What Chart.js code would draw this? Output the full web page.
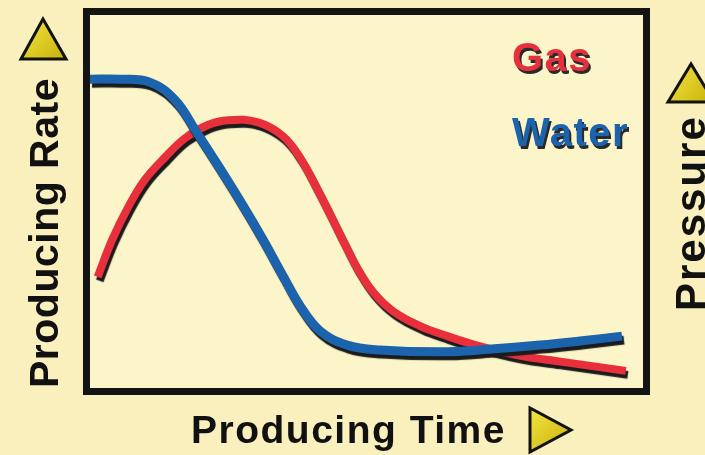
<!DOCTYPE html>
<html>
<head>
<meta charset="utf-8">
<script src="https://cdn.jsdelivr.net/npm/chart.js@4/dist/chart.umd.min.js"></script>
<style>
  html, body { margin: 0; padding: 0; background: #faf0bd; }
  canvas { display: block; }
</style>
</head>
<body>
<canvas id="chart" width="705" height="455"></canvas>
<script>
// values, time and rate both on a 0..100 scale
const gasTime  = [1.4, 4.0, 6.9, 9.9, 13.6, 17.2, 21.3, 25.0, 30.4, 34.9, 38.0, 41.0, 43.4, 45.8, 48.3, 51.2, 54.8, 59.7, 64.6, 69.1, 77.2, 85.4, 96.9];
const gasRate  = [29.8, 39.7, 48.5, 55.8, 61.9, 67.0, 70.5, 71.8, 71.2, 67.5, 61.7, 53.6, 46.6, 39.4, 32.2, 25.7, 20.6, 16.6, 13.9, 11.8, 8.8, 7.0, 4.6];
const waterTime = [0, 5.4, 10.8, 15.4, 19.0, 23.1, 27.5, 31.1, 34.9, 38.0, 41.6, 46.5, 52.4, 64.6, 73.2, 81.4, 88.6, 96.2];
const waterRate = [82.8, 82.8, 82.0, 77.2, 69.2, 59.8, 49.3, 40.2, 30.0, 22.0, 15.3, 11.5, 10.2, 9.7, 10.5, 11.5, 12.6, 13.9];

const seriesNames = ["Gas", "Water"];
const xTitle = "Producing Time";
const yTitle = "Producing Rate";
const y2Title = "Pressure";

const RED = "#e8303d";
const BLUE = "#1c63ad";

const pts = (xs, ys) => xs.map((x, i) => ({ x: x, y: ys[i] }));

function triangle(ctx, p1, p2, p3) {
    const g = ctx.createLinearGradient(Math.min(p1[0], p2[0], p3[0]), Math.min(p1[1], p2[1], p3[1]),
                                       Math.max(p1[0], p2[0], p3[0]), Math.max(p1[1], p2[1], p3[1]));
    g.addColorStop(0, "#f4e640");
    g.addColorStop(1, "#c8b00a");
    ctx.beginPath();
    ctx.moveTo(p1[0], p1[1]);
    ctx.lineTo(p2[0], p2[1]);
    ctx.lineTo(p3[0], p3[1]);
    ctx.closePath();
    ctx.fillStyle = g;
    ctx.fill();
    ctx.lineWidth = 3;
    ctx.lineJoin = "miter";
    ctx.strokeStyle = "#111";
    ctx.stroke();
}

const decor = {
    id: "decor",
    beforeDraw(chart) {
        const { ctx, chartArea: a } = chart;
        ctx.save();
        ctx.fillStyle = "#fcf5c9";
        ctx.fillRect(a.left, a.top, a.right - a.left, a.bottom - a.top);
        ctx.restore();
    },
    beforeDatasetDraw(chart) {
        const ctx = chart.ctx;
        ctx.save();
        ctx.shadowColor = "#1b1b1b";
        ctx.shadowOffsetX = 2;
        ctx.shadowOffsetY = 4;
        ctx.shadowBlur = 1;
    },
    afterDatasetDraw(chart) {
        chart.ctx.restore();
    },
    afterDatasetsDraw(chart) {
        const { ctx, chartArea: a } = chart;
        ctx.save();
        // frame
        ctx.lineWidth = 7;
        ctx.strokeStyle = "#141414";
        ctx.strokeRect(a.left - 3.5, a.top - 3.5, a.right - a.left + 7, a.bottom - a.top + 7);

        // series labels
        ctx.font = "bold 40px 'Liberation Sans', Arial, sans-serif";
        ctx.letterSpacing = "1.5px";
        ctx.textAlign = "left";
        ctx.textBaseline = "alphabetic";
        const labelY = [71, 146];
        chart.data.datasets.forEach((ds, i) => {
            ctx.fillStyle = "#2a2a2a";
            ctx.fillText(ds.label, 514, labelY[i] + 3);
            ctx.fillStyle = ds.borderColor;
            ctx.fillText(ds.label, 512, labelY[i]);
        });

        // axis titles
        ctx.fillStyle = "#111";
        ctx.font = "bold 39px 'Liberation Sans', Arial, sans-serif";
        ctx.letterSpacing = "1.5px";
        ctx.fillText(xTitle, 191, 443);
        triangle(ctx, [530, 408], [530, 452], [571, 430]);

        ctx.save();
        ctx.translate(58, 388);
        ctx.rotate(-Math.PI / 2);
        ctx.fillStyle = "#111";
        ctx.font = "bold 41px 'Liberation Sans', Arial, sans-serif";
        ctx.letterSpacing = "0.5px";
        ctx.fillText(yTitle, 0, 0);
        ctx.restore();
        triangle(ctx, [43, 19], [21, 59], [66, 59]);

        ctx.save();
        ctx.translate(705, 311);
        ctx.rotate(-Math.PI / 2);
        ctx.fillStyle = "#111";
        ctx.font = "bold 42px 'Liberation Sans', Arial, sans-serif";
        ctx.letterSpacing = "2px";
        ctx.fillText(y2Title, 0, 0);
        ctx.restore();
        triangle(ctx, [691, 64], [668, 102], [714, 102]);
        ctx.restore();
    }
};

new Chart(document.getElementById("chart"), {
    type: "line",
    data: {
        datasets: [
            {
                label: seriesNames[0],
                data: pts(gasTime, gasRate),
                borderColor: RED,
                borderWidth: 8,
                borderCapStyle: "butt",
                tension: 0.4,
                pointRadius: 0,
                order: 1
            },
            {
                label: seriesNames[1],
                data: pts(waterTime, waterRate),
                borderColor: BLUE,
                borderWidth: 9,
                borderCapStyle: "butt",
                tension: 0.4,
                pointRadius: 0,
                order: 0
            }
        ]
    },
    options: {
        responsive: false,
        animation: false,
        devicePixelRatio: 1,
        layout: { padding: { left: 90, top: 15, right: 62, bottom: 67 } },
        plugins: { legend: { display: false }, tooltip: { enabled: false } },
        scales: {
            x: { type: "linear", min: 0, max: 100, display: false },
            y: { type: "linear", min: 0, max: 100, display: false }
        }
    },
    plugins: [decor]
});
</script>
</body>
</html>
